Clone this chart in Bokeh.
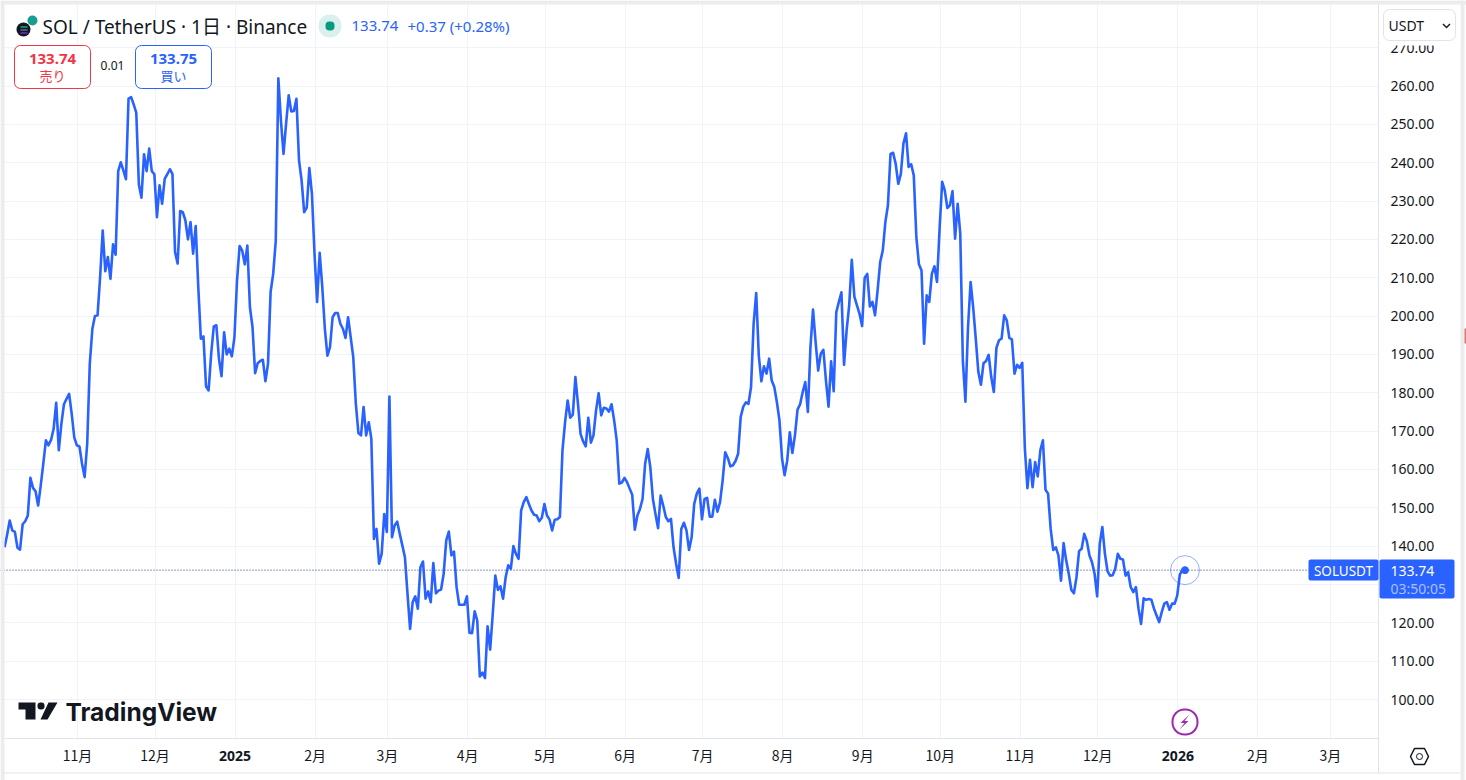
# SOL / USDT daily line chart, TradingView look
import pandas as pd
from bokeh.embed import file_html
from bokeh.models import (BoxAnnotation, FixedTicker, Label, NumeralTickFormatter,
                          PolyAnnotation, Range1d, Span)
from bokeh.plotting import figure
from bokeh.resources import INLINE

first_day = "2024-10-04"
# TradingView draws each daily close a little left of the midnight gridline
first_close = "2024-10-03 18:00"

# daily closes
prices = [
    139.7, 143.0, 146.7, 144.1, 143.7, 139.6, 139.1, 145.7, 146.5, 148.0,
    157.8, 155.2, 154.3, 150.6, 155.8, 161.5, 167.6, 166.3, 167.7, 170.6,
    177.4, 165.0, 171.9, 177.0, 178.4, 179.7, 174.5, 168.3, 166.3, 166.0,
    161.5, 158.0, 166.7, 187.6, 196.7, 200.0, 200.2, 210.2, 222.3, 211.7,
    215.4, 209.7, 218.7, 216.0, 237.8, 240.1, 238.0, 235.7, 256.7, 257.1,
    255.2, 253.0, 234.3, 230.9, 242.2, 237.8, 243.7, 237.8, 237.0, 225.8,
    234.1, 229.3, 235.8, 237.0, 238.3, 237.1, 216.7, 213.7, 227.4, 227.1,
    225.0, 220.0, 224.5, 216.3, 223.5, 207.6, 194.1, 194.7, 181.7, 180.6,
    190.2, 197.3, 197.6, 188.9, 184.3, 195.8, 190.0, 191.5, 189.5, 194.5,
    209.3, 218.3, 217.1, 213.5, 218.4, 202.3, 197.1, 185.1, 187.7, 188.3,
    188.6, 183.0, 187.6, 206.3, 211.0, 219.7, 262.0, 251.0, 242.3, 250.2,
    257.6, 253.4, 253.5, 256.7, 240.6, 235.4, 227.1, 228.3, 238.6, 231.9,
    216.3, 203.7, 216.5, 207.6, 196.7, 189.7, 191.9, 199.7, 200.8, 200.8,
    198.0, 196.7, 194.3, 199.7, 194.5, 189.3, 177.1, 169.5, 168.9, 176.3,
    168.9, 172.3, 168.0, 141.9, 144.5, 135.4, 138.0, 148.4, 143.7, 179.0,
    142.3, 145.4, 146.4, 143.2, 140.2, 137.1, 127.6, 118.4, 125.4, 126.9,
    123.7, 134.5, 136.0, 126.3, 128.2, 125.4, 135.6, 127.7, 128.4, 128.7,
    132.8, 141.5, 143.8, 137.6, 138.6, 129.3, 124.7, 124.7, 124.7, 126.9,
    117.4, 117.3, 123.0, 120.6, 106.0, 107.0, 105.6, 119.1, 113.0, 122.3,
    132.3, 128.6, 129.5, 126.3, 131.9, 135.0, 134.1, 140.0, 138.0, 136.7,
    149.3, 151.5, 152.8, 151.0, 149.3, 148.2, 148.0, 146.5, 147.4, 151.0,
    148.0, 146.9, 144.1, 146.9, 147.0, 147.6, 165.0, 172.3, 178.0, 173.5,
    174.3, 184.1, 177.1, 169.3, 167.3, 166.0, 173.5, 167.0, 168.9, 175.4,
    179.9, 174.1, 176.1, 175.9, 175.1, 177.0, 172.8, 167.6, 156.3, 156.6,
    157.8, 156.7, 155.0, 153.4, 144.3, 148.0, 149.7, 152.3, 161.5, 165.3,
    160.6, 152.3, 148.4, 144.7, 153.2, 150.6, 147.6, 146.5, 147.1, 139.7,
    135.4, 131.7, 144.5, 146.1, 144.1, 139.0, 142.3, 151.0, 153.7, 155.0,
    147.0, 152.3, 152.6, 147.7, 147.7, 152.1, 149.0, 151.5, 157.1, 164.5,
    163.0, 160.8, 161.1, 162.2, 164.1, 173.7, 176.4, 177.5, 177.1, 181.5,
    198.0, 206.0, 189.7, 183.0, 186.9, 185.0, 188.9, 183.2, 181.5, 177.6,
    172.8, 162.8, 158.5, 162.3, 169.7, 164.3, 168.9, 175.6, 177.0, 180.2,
    182.8, 175.0, 191.9, 201.7, 193.2, 185.8, 190.2, 191.2, 183.2, 176.4,
    188.2, 180.4, 201.0, 203.7, 206.2, 187.3, 196.3, 202.8, 214.7, 205.1,
    202.8, 200.6, 197.4, 210.0, 211.0, 202.5, 203.7, 200.2, 206.7, 214.1,
    217.1, 224.5, 228.9, 242.3, 242.6, 239.7, 234.5, 237.1, 245.0, 247.7,
    238.9, 239.6, 236.7, 220.6, 213.5, 211.9, 192.8, 205.4, 203.7, 211.0,
    213.0, 208.9, 222.8, 235.0, 232.8, 228.2, 228.9, 232.6, 220.2, 229.3,
    221.5, 188.4, 177.7, 197.1, 208.9, 202.3, 194.1, 185.4, 182.1, 187.7,
    188.3, 189.9, 184.1, 180.2, 191.7, 193.7, 194.1, 200.2, 198.9, 194.3,
    193.9, 185.0, 187.3, 186.5, 187.8, 165.6, 155.1, 162.5, 155.4, 161.9,
    158.2, 165.0, 167.6, 154.7, 153.7, 144.5, 139.0, 139.7, 137.6, 131.0,
    140.8, 136.3, 132.8, 128.6, 127.7, 131.9, 138.7, 139.3, 143.2, 141.3,
    137.6, 135.8, 132.8, 126.9, 140.6, 145.0, 138.0, 133.5, 132.3, 132.4,
    134.1, 138.0, 136.7, 136.5, 132.3, 133.2, 129.3, 128.0, 129.3, 123.7,
    119.7, 126.4, 126.0, 126.2, 126.0, 123.7, 121.9, 120.2, 122.8, 125.0,
    125.4, 123.4, 125.0, 125.0, 127.1, 132.6, 133.8, 133.74,
]

month_days = ["2024-11-01", "2024-12-01", "2025-02-01", "2025-03-01", "2025-04-01",
              "2025-05-01", "2025-06-01", "2025-07-01", "2025-08-01", "2025-09-01",
              "2025-10-01", "2025-11-01", "2025-12-01", "2026-02-01", "2026-03-01"]
month_labels = ["11月", "12月", "2月", "3月", "4月", "5月", "6月", "7月", "8月",
                "9月", "10月", "11月", "12月", "2月", "3月"]
year_days = ["2025-01-01", "2026-01-01"]
year_labels = ["2025", "2026"]
price_ticks = list(range(100, 280, 10))

BLUE = "#2962ff"
RED = "#f23645"
INK = "#131722"
GRID = "#f0f3fa"
EDGE = "#e0e3eb"
BAND = "#ececec"
JP = "Noto Sans CJK JP"
LATIN = "Noto Sans"
MIXED = "'Noto Sans', 'Noto Sans CJK JP'"


def ms(day):
    return pd.Timestamp(day).timestamp() * 1000


dates = pd.date_range(first_close, periods=len(prices))

# the frame fills the whole canvas and the axes sit inside it, because
# annotations get clipped to the frame
day_ms = 86400000
x_per_px = day_ms / 2.583
y_per_px = 1 / 3.834
x0 = ms(first_day) - 4.7 * x_per_px
y0 = 100 + 699 * y_per_px


def at_x(px):
    return x0 + px * x_per_px


def at_y(py):
    return y0 - py * y_per_px


p = figure(width=1466, height=780, output_backend="svg", toolbar_location=None,
           x_axis_type="datetime", y_axis_location="right",
           x_range=Range1d(at_x(0), at_x(1466)), y_range=Range1d(at_y(780), at_y(0)),
           min_border=0)
p.outline_line_color = None
p.border_fill_color = "white"

p.xgrid.grid_line_color = GRID
p.ygrid.grid_line_color = GRID

p.xaxis.fixed_location = at_y(738)
p.xaxis.bounds = (at_x(4), at_x(1378))
p.xaxis.ticker = FixedTicker(ticks=[ms(d) for d in month_days + year_days])
overrides = {ms(d): t for d, t in zip(month_days, month_labels)}
overrides.update({ms(d): "" for d in year_days})
p.xaxis.major_label_overrides = overrides
p.xaxis.major_label_text_font = JP
p.xaxis.major_label_text_font_size = "14px"
p.xaxis.major_label_text_color = INK
p.xaxis.major_label_standoff = 0
p.xaxis.axis_line_color = EDGE
p.xaxis.major_tick_line_color = None
p.xaxis.minor_tick_line_color = None

p.yaxis.fixed_location = at_x(1378)
p.yaxis.bounds = (at_y(772), at_y(4))
p.yaxis.ticker = FixedTicker(ticks=price_ticks)
p.yaxis.formatter = NumeralTickFormatter(format="0.00")
p.yaxis.major_label_text_font = LATIN
p.yaxis.major_label_text_font_size = "14px"
p.yaxis.major_label_text_color = INK
p.yaxis.major_label_standoff = 6
p.yaxis.axis_line_color = EDGE
p.yaxis.major_tick_line_color = None
p.yaxis.minor_tick_line_color = None


def box(left, top, right, bottom, fill="white", line=None, radius=0, width=1, level="overlay"):
    p.add_layout(BoxAnnotation(left=left, right=right, top=top, bottom=bottom,
                               left_units="canvas", right_units="canvas",
                               top_units="canvas", bottom_units="canvas",
                               fill_color=fill, fill_alpha=1 if fill else 0,
                               line_color=line, line_alpha=1 if line else 0,
                               line_width=width, border_radius=radius,
                               level=level, editable=False))


def poly(xs, ys, fill=None, line=None, width=1):
    p.add_layout(PolyAnnotation(xs=xs, ys=ys, xs_units="canvas", ys_units="canvas",
                                fill_color=fill, fill_alpha=1 if fill else 0,
                                line_color=line, line_alpha=1 if line else 0,
                                line_width=width, level="overlay", editable=False))


def text(x, y, t, size=14, color=INK, font=LATIN, style="normal", align="left"):
    p.add_layout(Label(x=x, y=y, x_units="canvas", y_units="canvas", text=t,
                       text_font=font, text_font_size=f"{size}px", text_color=color,
                       text_font_style=style, text_align=align, text_baseline="middle",
                       level="overlay"))


p.add_layout(Span(location=prices[-1], dimension="width", line_color="#1f2f8a",
                  line_width=1, line_dash=[1, 2], level="underlay"))

# white panels under the axes hide the grid and the dotted line there
box(1378, 0, 1466, 780, level="glyph")
box(0, 738, 1466, 780, level="glyph")

p.line(dates, prices, line_color=BLUE, line_width=2.6, line_join="round")
p.scatter(dates[-1:], prices[-1:], size=29, fill_color=None, line_color=BLUE,
          line_alpha=0.5, line_width=1)
p.scatter(dates[-1:], prices[-1:], size=7, fill_color=BLUE, line_color=BLUE)

# window edges around the widget
box(0, 0, 4, 780, BAND)
box(0, 0, 1466, 4, BAND)
box(1460, 0, 1464, 780, BAND)
box(1464, 328, 1466, 343, "#e57373")
box(4, 772, 1460, 773, EDGE)

# years are bold, so they sit on the axis as their own labels
for d, t in zip(year_days, year_labels):
    p.add_layout(Label(x=ms(d), y=755, y_units="canvas", text=t, text_font=LATIN,
                       text_font_size="14px", text_font_style="bold", text_color=INK,
                       text_align="center", text_baseline="middle"))

# header
box(16, 22, 30, 36, "#131722", radius=7)
box(20, 26, 27, 27, "#14f195")
box(20, 29, 27, 30, "#7f8cf5")
box(20, 32, 27, 33, "#9945ff")
box(27, 15, 37, 25, "#1a9c94", radius=5)
text(42, 26, "SOL / TetherUS · 1日 · Binance", size=19, font=MIXED)
box(318, 14, 341, 37, "#daf0ec", radius=11)
box(325, 21, 334, 30, "#089981", radius=4)
text(351, 25, "133.74", size=15, color=BLUE)
text(407, 25, "+0.37 (+0.28%)", size=15, color=BLUE)

# sell and buy buttons
box(14, 45, 90, 88, "white", RED, radius=6)
text(52, 58, "133.74", size=15, color=RED, style="bold", align="center")
text(52, 75, "売り", size=13, color=RED, font=JP, align="center")
text(112, 65, "0.01", size=12, align="center")
box(135, 45, 211, 88, "white", BLUE, radius=6)
text(173, 58, "133.75", size=15, color=BLUE, style="bold", align="center")
text(173, 75, "買い", size=13, color=BLUE, font=JP, align="center")

# currency selector, it covers the top of the 270.00 label
box(1379, 5, 1460, 45, "white")
box(1383, 9, 1455, 40, "white", EDGE, radius=6)
text(1388, 25, "USDT", size=14)
poly([1443, 1446, 1449, 1450, 1446, 1442], [23, 26, 23, 24, 28, 24], fill=INK)

# last price tags
box(1308, 559, 1378, 580, BLUE, radius=2)
text(1343, 570, "SOLUSDT", size=13.5, color="white", align="center")
box(1379, 559, 1454, 598, BLUE, radius=2)
text(1390, 570, "133.74", size=14, color="white")
text(1390, 588, "03:50:05", size=14, color="#a9c0ff")

# TradingView watermark
poly([18, 35, 35, 25, 25, 18], [702, 702, 719, 719, 709, 709], fill=INK)
box(37, 702, 44, 709, INK, radius=3)
poly([48, 57, 47, 40], [702, 702, 719, 719], fill=INK)
text(65, 711, "TradingView", size=24.5, font="Inter", style="bold")

# event marker
box(1172, 709, 1197, 734, "white", "#9c27b0", radius=12, width=2)
poly([1189, 1180, 1184, 1179, 1188, 1184], [714, 722.5, 722.5, 729, 720.5, 720.5], fill="#9c27b0")

# settings icon
poly([1410, 1414, 1424, 1428, 1424, 1414], [756, 748, 748, 756, 764, 764], line=INK, width=1.5)
box(1416, 753, 1422, 759, "white", INK, radius=3)

open("out.html", "w").write(file_html(p, INLINE))
